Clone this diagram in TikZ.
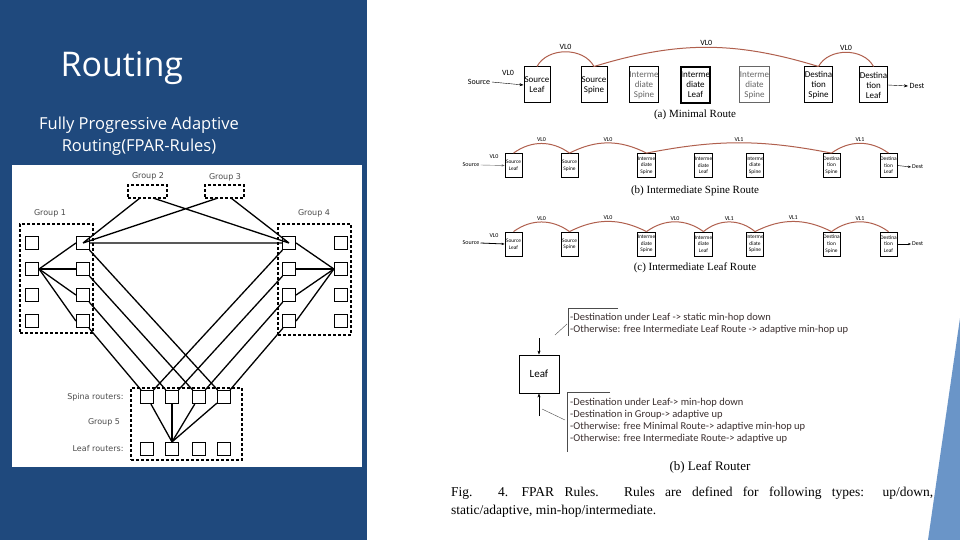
\documentclass[tikz,border=0pt]{standalone}
\usepackage{fontspec}
\setmainfont{Open Sans}
\newfontfamily\capfont{Liberation Serif}
\newfontfamily\boxfont{Carlito}
\newfontfamily\figfont{DejaVu Sans}
\usetikzlibrary{positioning,arrows.meta}
\definecolor{slideblue}{HTML}{1F497D}
\definecolor{stripeblue}{HTML}{6A95C8}
\definecolor{arcred}{HTML}{B0604E}
\definecolor{ruletext}{HTML}{3A2E2E}
\tikzset{
  sq/.style={draw,line width=1.2pt,minimum size=13pt,inner sep=0pt},
  grp/.style={draw,line width=1.1pt,dash pattern=on 3pt off 2pt,inner sep=0pt},
  link/.style={line width=1.3pt},
  glabel/.style={font=\figfont\fontsize{8}{9}\selectfont,text=black!70},
  rboxa/.style={draw,line width=1pt,minimum width=26pt,minimum height=36pt,inner sep=0pt,align=center,font=\boxfont\fontsize{9}{10}\selectfont},
  rboxb/.style={draw,line width=0.8pt,minimum width=17pt,minimum height=24pt,inner sep=0pt,align=center,font=\boxfont\fontsize{5.4}{6.6}\selectfont},
  arc/.style={arcred,line width=1pt},
  vl/.style={font=\boxfont\fontsize{6}{6}\selectfont,text=black,inner sep=1pt},
  vla/.style={font=\boxfont\fontsize{8}{8}\selectfont,text=black,inner sep=1.5pt},
  caption/.style={font=\capfont\fontsize{11}{12}\selectfont},
  rule/.style={font=\boxfont\fontsize{10.5}{12}\selectfont,text=ruletext,align=left,inner sep=0pt,anchor=west},
}
\begin{document}
\begin{tikzpicture}[x=1pt,y=-1pt]
  \useasboundingbox (0,0) rectangle (960,540);
  \fill[white] (0,0) rectangle (960,540);
  \fill[slideblue] (0,0) rectangle (367,540);

  % title
  \node[text=white,font=\fontsize{34}{38}\selectfont,anchor=west] (title) at (57,68) {Routing};
  \node[text=white,font=\fontsize{16.5}{22}\selectfont,align=center] (sub) at (139,136)
    {Fully Progressive Adaptive\\Routing(FPAR-Rules)};

  % left figure
  \fill[white] (12,165) rectangle (362,467);
  \node[grp,minimum width=39pt,minimum height=13pt] (g2) at (147.5,191.5) {};
  \node[grp,minimum width=39pt,minimum height=13pt] (g3) at (224.5,191.5) {};
  \node[grp,minimum width=73pt,minimum height=109pt] (g1) at (56.5,278.5) {};
  \node[grp,minimum width=73pt,minimum height=111pt] (g4) at (314.5,279.5) {};
  \node[grp,minimum width=111pt,minimum height=72pt] (g5) at (186.5,424) {};
  \node[glabel] (l2) at (148,176) {Group 2};
  \node[glabel] (l3) at (225,177) {Group 3};
  \node[glabel] (l1) at (50,213) {Group 1};
  \node[glabel] (l4) at (314,213) {Group 4};
  \node[glabel,anchor=east] (lsp) at (127,397) {Spina routers:};
  \node[glabel] (l5) at (104,422) {Group 5};
  \node[glabel,anchor=east] (llf) at (127,449) {Leaf routers:};
  \foreach \y [count=\i] in {243,269,295,321} {
    \node[sq] (g1l\i) at (32,\y) {};
    \node[sq] (g1r\i) at (83,\y) {};
    \node[sq] (g4l\i) at (289,\y) {};
    \node[sq] (g4r\i) at (341,\y) {};
  }
  \foreach \x [count=\i] in {147,172,199,224} {
    \node[sq] (sp\i) at (\x,397) {};
    \node[sq] (lf\i) at (\x,449) {};
  }
  \coordinate (g2a) at (140,198);
  \coordinate (g2b) at (153,198);
  \coordinate (g3a) at (218,198);
  \coordinate (g3b) at (231,198);
  \draw[link] (g2a) -- (g1r1.center) (g3a) -- (g1r1.center)
    (g2b) -- (g4l1.center) (g3b) -- (g4l1.center)
    (g1r1.east) -- (g4l1.west);
  \foreach \i in {1,...,4} {
    \draw[link] (g1l2.east) -- (g1r\i.west);
    \draw[link] (g4r2.west) -- (g4l\i.east);
    \draw[link] (g4l\i) -- (sp\i);
    \draw[link] (sp\i) -- (lf2.north);
  }
  \draw[link] (g1r1) -- (sp4) (g1r2) -- (sp3) (g1r3) -- (sp2) (g1r4) -- (sp1);

  % (a) minimal route
  \node[rboxa] (A1) at (537,85) {Source\\Leaf};
  \node[rboxa] (A2) at (594,85) {Source\\Spine};
  \node[rboxa,text=black!60] (A3) at (644,85) {Interme\\diate\\Spine};
  \node[rboxa,line width=1.4pt] (A4) at (695.5,85) {Interme\\diate\\Leaf};
  \node[rboxa,draw=black!60,text=black!60] (A5) at (754.5,85) {Interme\\diate\\Spine};
  \node[rboxa] (A6) at (818.5,85) {Destina\\tion\\Spine};
  \node[rboxa] (A7) at (873.5,85) {Destina\\tion\\Leaf};
  \node[vla] (asrc) at (479,82) {Source};
  \node[vla] (avl) at (508,73) {VL0};
  \node[vla,anchor=west] (adst) at (908,86) {Dest};
  \draw[-{Stealth[length=4pt]}] (asrc.east) -- (A1.west);
  \draw[-{Stealth[length=4pt]}] (A7.east) -- (adst.west);
  \draw[arc] (A1.north) to[bend left=62] node[vla,above] {VL0} (A2.north);
  \draw[arc] (A2.north) to[bend left=17] node[vla,above] {VL0} (A6.north);
  \draw[arc] (A6.north) to[bend left=62] node[vla,above] {VL0} (A7.north);
  \node[caption] (capa) at (695,115) {(a) Minimal Route};

  % (b) intermediate spine route
  \foreach \x/\t [count=\i] in {513.5/Source\\Leaf,569.5/Source\\Spine,646.5/Interme\\diate\\Spine,703.5/Interme\\diate\\Leaf,755/Interme\\diate\\Spine,831.5/Destina\\tion\\Spine,888.5/Destina\\tion\\Leaf} {
    \node[rboxb] (B\i) at (\x,165.5) {\t};
    \node[rboxb] (C\i) at (\x,244) {\t};
  }
  \node[vl] (bsrc) at (471,165) {Source};
  \node[vl] (bvl) at (494,157) {VL0};
  \node[vl,anchor=west] (bdst) at (911,167) {Dest};
  \draw[-{Stealth[length=3pt]},black!60] (bsrc.east) -- (B1.west);
  \draw[-{Stealth[length=3pt]}] (B7.east) -- (bdst.west);
  \draw[arc] (B1.north) to[bend left=36] node[vl,above] {VL0} (B2.north);
  \draw[arc] (B2.north) to[bend left=27] node[vl,above] {VL0} (B3.north);
  \draw[arc] (B3.north) to[bend left=11] node[vl,above] {VL1} (B6.north);
  \draw[arc] (B6.north) to[bend left=36] node[vl,above] {VL1} (B7.north);
  \node[caption] (capb) at (695,191) {(b) Intermediate Spine Route};

  % (c) intermediate leaf route
  \node[vl] (csrc) at (471,243) {Source};
  \node[vl] (cvl) at (494,236) {VL0};
  \node[vl,anchor=west] (cdst) at (911,244) {Dest};
  \draw[-{Stealth[length=3pt]},line width=0.8pt] (csrc.east) -- (C1.west);
  \draw[-{Stealth[length=3pt]}] (C7.east) -- (cdst.west);
  \draw[arc] (C1.north) to[bend left=36] node[vl,above] {VL0} (C2.north);
  \draw[arc] (C2.north) to[bend left=27] node[vl,above] {VL0} (C3.north);
  \draw[arc] (C3.north) to[bend left=36] node[vl,above] {VL0} (C4.north);
  \draw[arc] (C4.north) to[bend left=40] node[vl,above] {VL1} (C5.north);
  \draw[arc] (C5.north) to[bend left=27] node[vl,above] {VL1} (C6.north);
  \draw[arc] (C6.north) to[bend left=36] node[vl,above] {VL1} (C7.north);
  \node[caption] (capc) at (695,268) {(c) Intermediate Leaf Route};

  % leaf router rules
  \node[draw,line width=0.9pt,minimum width=40pt,minimum height=38pt,font=\boxfont\fontsize{11}{11}\selectfont] (leaf) at (539,374) {Leaf};
  \coordinate (intop) at (539,338);
  \coordinate (inbot) at (539,416);
  \draw[-{Stealth[length=4pt]}] (intop) -- (leaf.north);
  \draw[-{Stealth[length=4pt]}] (inbot) -- (leaf.south);
  \draw[black!70] (555,335) -- (567,324);
  \draw[black!70] (542,409) -- (565,420);
  \draw[black!70] (618,308) -| (568,336);
  \draw[black!70] (610,392) -| (567,452);
  \node[rule] (r1) at (570,324) {-Destination under Leaf -> static min-hop down\\-Otherwise: free Intermediate Leaf Route -> adaptive min-hop up};
  \node[rule] (r2) at (570,421) {-Destination under Leaf-> min-hop down\\-Destination in Group-> adaptive up\\-Otherwise: free Minimal Route-> adaptive min-hop up\\-Otherwise: free Intermediate Route-> adaptive up};
  \node[caption,font=\capfont\fontsize{13}{14}\selectfont] (capl) at (710,467) {(b) Leaf Router};
  \node[anchor=north west,text width=482pt,align=justify,inner sep=0pt,font=\capfont\fontsize{13.5}{18}\selectfont] (fig) at (451,487)
    {Fig. 4.\quad FPAR Rules. Rules are defined for following types: up/down,\linebreak static/adaptive, min-hop/intermediate.};

  % stripe
  \fill[stripeblue] (960,318) -- (960,540) -- (928,540) -- cycle;
\end{tikzpicture}
\end{document}
